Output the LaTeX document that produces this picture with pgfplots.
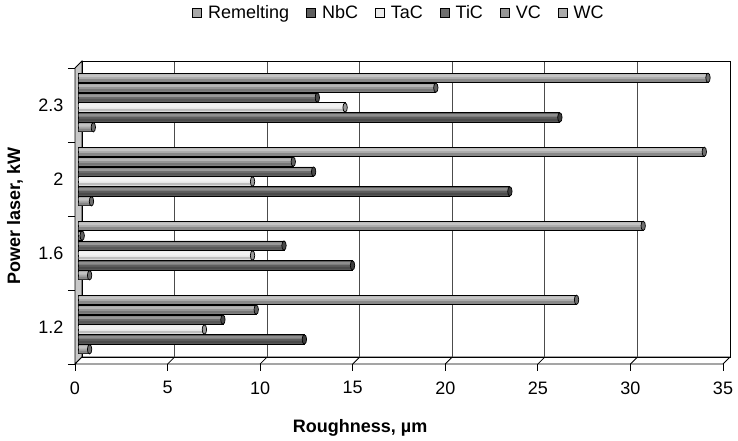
\documentclass[border=0pt]{standalone}
\usepackage{fontspec}
\setmainfont{Liberation Sans}
\usepackage{pgfplots}
\usepackage{pgfplotstable}
\pgfplotsset{compat=1.18}

% roughness (um); cat 0..3 = laser power 1.2, 1.6, 2, 2.3 kW
\pgfplotstableread{
cat  Rem   NbC   TaC   TiC   VC    WC
0    0.6   12.2  6.8   7.8   9.6   26.9
1    0.6   14.8  9.4   11.1  0.2   30.5
2    0.7   23.3  9.4   12.7  11.6  33.8
3    0.8   26.0  14.4  12.9  19.3  34.0
}\roughness

% series colours (grey scale)
\definecolor{cRem}{HTML}{A8A8A8}
\definecolor{cNb}{HTML}{5E5E5E}
\definecolor{cTa}{HTML}{EDEDED}
\definecolor{cTi}{HTML}{6E6E6E}
\definecolor{cV}{HTML}{959595}
\definecolor{cW}{HTML}{ABABAB}
\definecolor{cWall}{HTML}{C8C8C8}

% elliptic end cap of a cylinder bar
\pgfdeclareplotmark{cap}{%
  \pgfpathellipse{\pgfpointorigin}{\pgfqpoint{2.2pt}{0pt}}{\pgfqpoint{0pt}{4.7pt}}%
  \pgfusepathqfillstroke}

\pgfplotsset{
  % body of a cylinder bar
  cyl/.style={xbar, bar width=9.2pt, bar shift=0pt, xshift=3.5pt,
    fill=#1, draw=black, line width=0.8pt, forget plot, mark=none},
  % light reflection along the upper part of the cylinder
  shine/.style={xbar, bar width=2.6pt, bar shift=2.0pt, xshift=3.5pt,
    fill=#1!70!white, draw=none, forget plot, mark=none},
  % dark band along the lower edge
  shade/.style={xbar, bar width=2.6pt, bar shift=-2.7pt, xshift=3.5pt,
    fill=#1!80!black, draw=none, forget plot, mark=none},
  % end face
  endcap/.style={only marks, xshift=3.5pt, forget plot, mark=cap,
    mark options={fill=#1!65!black, draw=black, line width=0.7pt}},
}
\tikzset{back/.style={shift={(7pt,7pt)}}}

% one cylinder series: colour, column, vertical offset
\newcommand\cylseries[3]{%
  \addplot[cyl=#1, yshift=#3] table[x=#2, y=cat] {\roughness};
  \addplot[shade=#1, yshift=#3] table[x=#2, y=cat] {\roughness};
  \addplot[shine=#1, yshift=#3] table[x=#2, y=cat] {\roughness};
  \addplot[endcap=#1, yshift=#3] table[x=#2, y=cat] {\roughness};
}

\begin{document}
\begin{tikzpicture}[font=\fontsize{18}{21}\selectfont]
\useasboundingbox (0,0) rectangle (738pt,441pt);
\begin{axis}[
  at={(75pt,77pt)}, anchor=south west,
  scale only axis, width=648pt, height=296pt,
  xmin=0, xmax=35, ymin=-0.5, ymax=3.5,
  clip=false,
  axis x line*=bottom, axis y line*=left,
  axis line style={draw=none},
  tick align=outside,
  major tick length=7pt,
  tick style={black, line width=0.8pt},
  xtick={0,5,...,35},
  xticklabel style={yshift=-7pt},
  ytick={-0.5,0.5,1.5,2.5,3.5}, yticklabels={},
  extra y ticks={0,1,2,3},
  extra y tick labels={1.2,1.6,2,2.3},
  extra y tick style={major tick length=0pt, yticklabel style={xshift=-8pt}},
  /pgf/number format/assume math mode=true,
  xlabel={\bfseries Roughness, µm},
  ylabel={\bfseries Power laser, kW},
  xlabel style={at={(axis description cs:0.44,-0.216)}, anchor=center},
  ylabel style={at={(axis description cs:-0.0926,0.5)}, anchor=center},
  legend columns=6,
  legend style={draw=none, fill=none, at={(axis description cs:0.5,1.186)}, anchor=center,
    /tikz/every even column/.append style={column sep=15pt}},
  legend image code/.code={\draw[#1] (0pt,-4.5pt) rectangle (9pt,4.5pt); \path (13pt,0pt);},
]
% legend swatches
\addlegendimage{fill=cRem, draw=black, line width=0.8pt}\addlegendentry{Remelting}
\addlegendimage{fill=cNb, draw=black, line width=0.8pt}\addlegendentry{NbC}
\addlegendimage{fill=cTa, draw=black, line width=0.8pt}\addlegendentry{TaC}
\addlegendimage{fill=cTi, draw=black, line width=0.8pt}\addlegendentry{TiC}
\addlegendimage{fill=cV, draw=black, line width=0.8pt}\addlegendentry{VC}
\addlegendimage{fill=cW, draw=black, line width=0.8pt}\addlegendentry{WC}

% side wall
\filldraw[fill=cWall, draw=black, line width=0.8pt] (axis cs:0,-0.5) -- (axis cs:0,3.5)
  -- ([back]axis cs:0,3.5) -- ([back]axis cs:0,-0.5) -- cycle;
% floor
\filldraw[fill=white, draw=black, line width=0.8pt] (axis cs:0,-0.5) -- (axis cs:35,-0.5)
  -- ([back]axis cs:35,-0.5) -- ([back]axis cs:0,-0.5) -- cycle;
\pgfplotsinvokeforeach{5,10,...,30}{
  \draw[black, line width=0.8pt] (axis cs:#1,-0.5) -- ([back]axis cs:#1,-0.5);
  \draw[gray!60!black, line width=0.9pt] ([back]axis cs:#1,-0.5) -- ([back]axis cs:#1,3.5);
}
% back wall outline
\draw[black, line width=0.8pt] ([back]axis cs:0,-0.5) rectangle ([back]axis cs:35,3.5);

% bars, bottom to top within each power level
\cylseries{cRem}{Rem}{-22.3pt}
\cylseries{cNb}{NbC}{-12.4pt}
\cylseries{cTa}{TaC}{-2.5pt}
\cylseries{cTi}{TiC}{7.4pt}
\cylseries{cV}{VC}{17.3pt}
\cylseries{cW}{WC}{27.2pt}
\end{axis}
\end{tikzpicture}
\end{document}
